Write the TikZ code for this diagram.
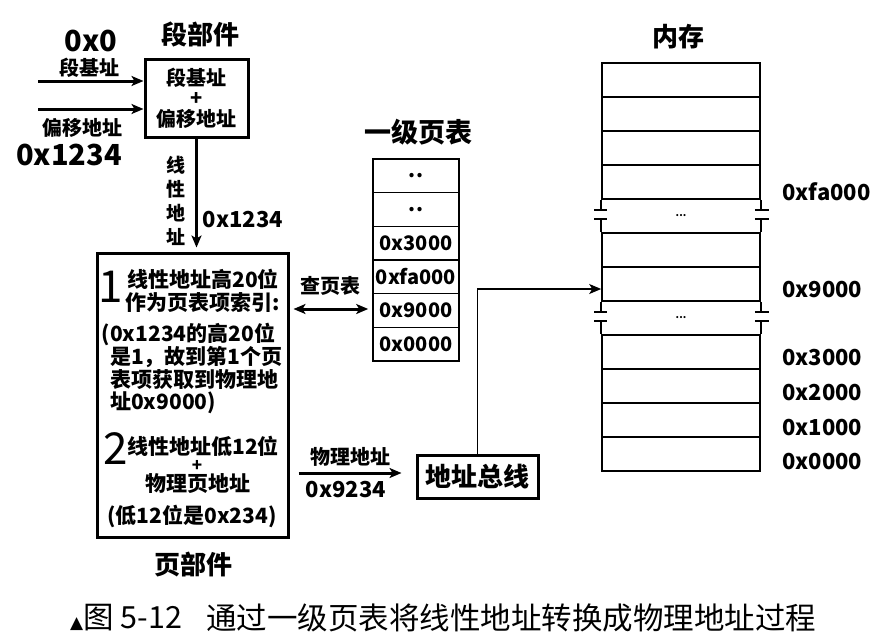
\documentclass[tikz,border=0pt]{standalone}
\usepackage{fontspec}
\setmainfont{Noto Sans CJK SC}
\newfontfamily\symfont{DejaVu Sans}
\usetikzlibrary{arrows.meta,positioning}
\newcommand\fsz[1]{\fontsize{#1}{#1}\selectfont}
\tikzset{
  unitbox/.style={rectangle, draw=black, line width=3pt, inner sep=0pt, align=center},
  ptcell/.style={rectangle, draw=black, line width=1.6pt, minimum width=86pt, minimum height=33.67pt, inner sep=0pt, font=\bfseries\fsz{20}},
  memcell/.style={rectangle, draw=black, line width=1.6pt, minimum width=158pt, minimum height=34pt, inner sep=0pt},
  title/.style={inner sep=0pt, font=\bfseries\fsz{26}},
  lbl/.style={inner sep=0pt, font=\bfseries\fsz{20}},
  hexbig/.style={inner sep=0pt, font=\bfseries\fsz{29}},
  hexmid/.style={inner sep=0pt, font=\bfseries\fsz{22}},
  pgtxt/.style={inner sep=0pt, font=\bfseries\fsz{21}},
  bignum/.style={inner sep=0pt, font=\fsz{44}},
  captxt/.style={inner sep=0pt, font=\fsz{30.5}, anchor=west},
  flowarr/.style={-{Stealth[length=12pt,width=10pt,inset=3pt]}, line width=3pt},
  thinarr/.style={-{Stealth[length=12pt,width=10pt,inset=3pt]}, line width=1.4pt},
}
\begin{document}
\begin{tikzpicture}[x=1pt, y=-1pt]
  \useasboundingbox[fill=white] (0,0) rectangle (874,640);
  % segment unit
  \node[title] (segttl) at (200,34) {段部件};
  \node[unitbox, minimum width=103pt, minimum height=78pt, font=\bfseries\fontsize{20}{20.5}\selectfont] (seg) at (196.5,98) {段基址\\+\\偏移地址};
  \coordinate (in1) at (38,81);
  \coordinate (in2) at (38,109);
  \draw[flowarr] (in1) -- (in1 -| seg.west);
  \draw[flowarr] (in2) -- (in2 -| seg.west);
  \node[hexbig] (base) at (91,41) {0x0};
  \node[lbl] (basel) at (89,68) {段基址};
  \node[lbl] (offl) at (82,128) {偏移地址};
  \node[hexbig] (off) at (69,155) {0x1234};
  % page unit
  \node[unitbox, minimum width=191pt, minimum height=284pt] (page) at (192.5,395) {};
  \draw[flowarr, shorten >=4pt] (seg.south) -- (seg.south |- page.north);
  \node[lbl, align=center, font=\bfseries\fontsize{19}{24}\selectfont] (linl) at (176,201) {线\\性\\地\\址};
  \node[hexmid] (linv) at (243,220) {0x1234};
  \node[bignum] (one) at (111,287) {1};
  \node[pgtxt, align=center, font=\bfseries\fontsize{21}{23}\selectfont] (s1a) at (203,290.5) {线性地址高20位\\作为页表项索引:};
  \node[pgtxt, align=left, anchor=west, font=\bfseries\fontsize{21}{22.3}\selectfont] (s1b) at (110,368.5) {\llap{(}0x1234的高20位\\是1，故到第1个页\\表项获取到物理地\\址0x9000)};
  \node[bignum] (two) at (116,449) {2};
  \node[pgtxt] (s2a) at (203,446) {线性地址低12位};
  \node[pgtxt, font=\bfseries\fsz{17}] (s2b) at (197,466) {+};
  \node[pgtxt] (s2c) at (198,484) {物理页地址};
  \node[pgtxt] (s2d) at (192,516) {(低12位是0x234)};
  \node[title] (pagettl) at (193,565) {页部件};
  % page table
  \node[title, font=\bfseries\fsz{27}] (ptttl) at (418,132) {一级页表};
  \foreach \v [count=\i] in {..,..,0x3000,0xfa000,0x9000,0x0000}
    \node[ptcell] (pt\i) at (416,{159+33.67*(\i-0.5)}) {\v};
  \draw[flowarr, {Stealth[length=12pt,width=10pt,inset=3pt]}-{Stealth[length=12pt,width=10pt,inset=3pt]}]
    ([xshift=4pt]page.east |- 0,309) -- ([xshift=-4pt]pt5.west |- 0,309);
  \node[lbl] (lookup) at (330,286) {查页表};
  % address bus
  \node[unitbox, minimum width=121pt, minimum height=43pt, font=\bfseries\fsz{26}] (bus) at (477.5,476.5) {地址总线};
  \draw[flowarr] ([xshift=9pt]page.east |- 0,473) -- ([xshift=-14pt]bus.west |- 0,473);
  \node[lbl] (phyl) at (350,457) {物理地址};
  \node[hexmid] (phyv) at (346,490) {0x9234};
  % memory
  \node[title] (memttl) at (678,37) {内存};
  \foreach \t [count=\i] in {63,97,131,165,233,267,335,369,403,437}
    \node[memcell] (m\i) at (681,\t+17) {};
  \foreach \a/\b in {m4/m5,m6/m7} {
    \draw[line width=1.6pt] (\a.south west) -- ++(0,10) (\b.north west) -- ++(0,-13)
      (\a.south east) -- ++(0,10) (\b.north east) -- ++(0,-13);
    \draw[line width=1.6pt] ([xshift=-7pt,yshift=-10pt]\a.south west) -- ++(13,0)
      ([xshift=-7pt,yshift=13pt]\b.north west) -- ++(13,0)
      ([xshift=-6pt,yshift=-10pt]\a.south east) -- ++(14,0)
      ([xshift=-6pt,yshift=13pt]\b.north east) -- ++(14,0);
  }
  \node[inner sep=0pt, font=\bfseries\fsz{10}] (dots1) at (681,216) {...};
  \node[inner sep=0pt, font=\bfseries\fsz{10}] (dots2) at (681,318) {...};
  \draw[thinarr] (bus.north) |- ([yshift=-5pt]m6.west);
  \node[hexmid, anchor=west] (a1) at (782,192) {0xfa000};
  \node[hexmid, anchor=west] (a2) at (782,290) {0x9000};
  \node[hexmid, anchor=west] (a3) at (782,358) {0x3000};
  \node[hexmid, anchor=west] (a4) at (782,393) {0x2000};
  \node[hexmid, anchor=west] (a5) at (782,428) {0x1000};
  \node[hexmid, anchor=west] (a6) at (782,462) {0x0000};
  % caption
  \node[captxt] (capnum) at (70,618) {{\symfont\fsz{17}▲}图 5-12};
  \node[captxt] (captext) at (206,618) {通过一级页表将线性地址转换成物理地址过程};
\end{tikzpicture}
\end{document}
